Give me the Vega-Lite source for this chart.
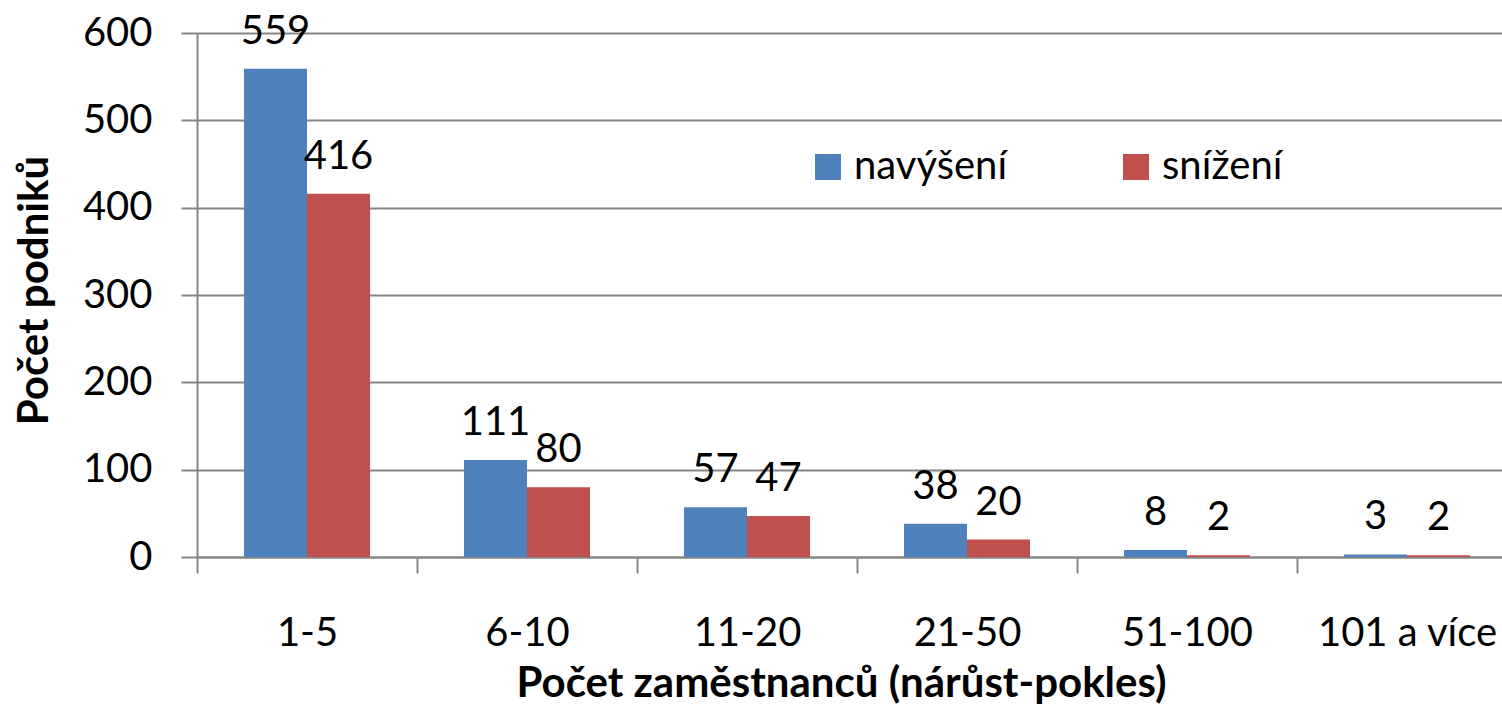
{
  "$schema": "https://vega.github.io/schema/vega-lite/v6.json",
  "autosize": {"type": "none"},
  "width": 1305,
  "height": 524,
  "padding": {"left": 197, "top": 33, "right": 0, "bottom": 151},
  "background": "white",
  "config": {
    "font": "Lato",
    "view": {"stroke": null},
    "axis": {"labelColor": "black", "titleColor": "black", "labelFont": "Lato", "titleFont": "Lato"}
  },
  "data": {
    "values": [
      {"kategorie": "1-5", "serie": "navýšení", "pocet": 559},
      {"kategorie": "1-5", "serie": "snížení", "pocet": 416},
      {"kategorie": "6-10", "serie": "navýšení", "pocet": 111},
      {"kategorie": "6-10", "serie": "snížení", "pocet": 80},
      {"kategorie": "11-20", "serie": "navýšení", "pocet": 57},
      {"kategorie": "11-20", "serie": "snížení", "pocet": 47},
      {"kategorie": "21-50", "serie": "navýšení", "pocet": 38},
      {"kategorie": "21-50", "serie": "snížení", "pocet": 20},
      {"kategorie": "51-100", "serie": "navýšení", "pocet": 8},
      {"kategorie": "51-100", "serie": "snížení", "pocet": 2},
      {"kategorie": "101 a více", "serie": "navýšení", "pocet": 3},
      {"kategorie": "101 a více", "serie": "snížení", "pocet": 2}
    ]
  },
  "encoding": {
    "x": {
      "field": "kategorie",
      "type": "nominal",
      "sort": null,
      "scale": {"range": [0, 1320], "paddingInner": 0.427, "paddingOuter": 0.2135},
      "axis": {
        "title": "Počet zaměstnanců (nárůst-pokles)",
        "titleFontSize": 42,
        "titleFontWeight": "bold",
        "titleBaseline": "alphabetic",
        "titleY": 139,
        "titleX": 644,
        "labelAngle": 0,
        "labelFontSize": 40,
        "labelPadding": 40,
        "labelBaseline": "top",
        "labelLimit": 500,
        "tickOffset": -110,
        "labelOffset": 110,
        "tickSize": 16,
        "tickColor": "#868686",
        "tickWidth": 2,
        "domainColor": "#868686",
        "domainWidth": 2,
        "grid": false
      }
    },
    "xOffset": {"field": "serie", "type": "nominal", "scale": {"paddingInner": 0, "paddingOuter": 0}},
    "y": {
      "field": "pocet",
      "type": "quantitative",
      "scale": {"domain": [0, 600], "nice": false},
      "axis": {
        "title": "Počet podniků",
        "titleFontSize": 42,
        "titleFontWeight": "bold",
        "titleX": -150,
        "titleY": 257,
        "titleAngle": -90,
        "titleBaseline": "alphabetic",
        "values": [0, 100, 200, 300, 400, 500, 600],
        "labelFontSize": 40,
        "labelPadding": 29,
        "tickSize": 16,
        "tickColor": "#868686",
        "tickWidth": 2,
        "domainColor": "#868686",
        "domainWidth": 2,
        "gridColor": "#868686",
        "gridWidth": 2
      }
    }
  },
  "layer": [
    {
      "mark": {"type": "bar"},
      "encoding": {
        "color": {
          "field": "serie",
          "type": "nominal",
          "scale": {"domain": ["navýšení", "snížení"], "range": ["#4F81BD", "#C0504D"]},
          "legend": {
            "title": null,
            "orient": "none",
            "legendX": 611,
            "legendY": 114,
            "direction": "horizontal",
            "columns": 2,
            "columnPadding": 108,
            "symbolType": "square",
            "symbolSize": 676,
            "symbolStrokeWidth": 0,
            "symbolOpacity": 1,
            "labelFontSize": 40,
            "labelColor": "black",
            "labelOffset": 6,
            "padding": 0
          }
        }
      }
    },
    {
      "mark": {"type": "text", "fontSize": 40, "baseline": "alphabetic", "align": "center", "dy": -25, "color": "black"},
      "encoding": {
        "text": {"field": "pocet", "type": "quantitative"}
      }
    }
  ]
}
